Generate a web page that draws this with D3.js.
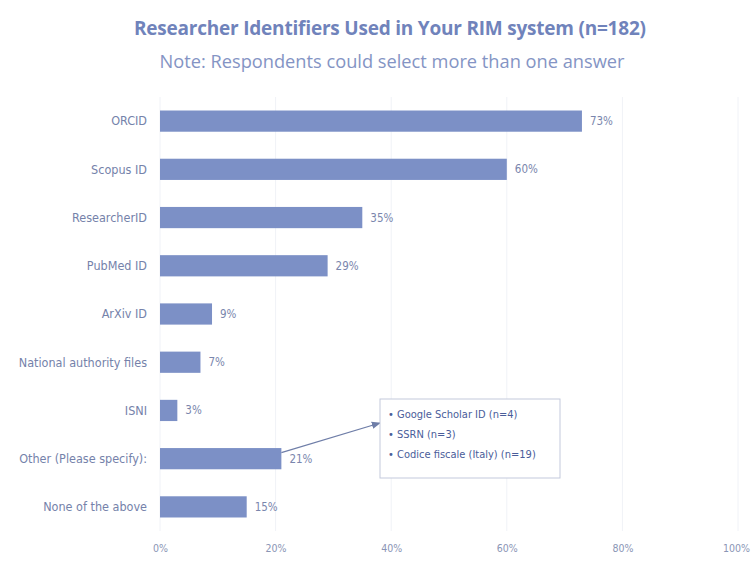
<!DOCTYPE html>
<html><head><meta charset="utf-8">
<script src="https://cdn.jsdelivr.net/npm/d3@7"></script>
<style>
body{margin:0;background:#fff;}
text{font-family:"Liberation Sans Narrow","DejaVu Sans Condensed","Roboto",sans-serif;}
</style></head>
<body><svg id="c" width="752" height="561"></svg>
<script>
const categories = ["ORCID","Scopus ID","ResearcherID","PubMed ID","ArXiv ID","National authority files","ISNI","Other (Please specify):","None of the above"];
const values = [73,60,35,29,9,7,3,21,15];
const ticks = [0,20,40,60,80,100];
const noteLines = ["Google Scholar ID (n=4)","SSRN (n=3)","Codice fiscale (Italy) (n=19)"];

const svg = d3.select("#c");
const x = d3.scaleLinear().domain([0,100]).range([160,738]);
const y = d3.scaleBand().domain(categories).range([97,531]).paddingInner(0.56).paddingOuter(0.28);

svg.append("text").attr("x",390).attr("y",35).attr("text-anchor","middle")
  .attr("font-size",19).attr("font-weight","bold").attr("fill","#7083bb")
  .style("font-family","'Open Sans',sans-serif").attr("textLength",512)
  .text("Researcher Identifiers Used in Your RIM system (n=182)");
svg.append("text").attr("x",392).attr("y",68).attr("text-anchor","middle")
  .attr("font-size",17.5).attr("fill","#8494c4")
  .style("font-family","'Open Sans',sans-serif").attr("textLength",465).attr("lengthAdjust","spacingAndGlyphs")
  .text("Note: Respondents could select more than one answer");

// grid
svg.append("g").selectAll("line").data(ticks).join("line")
  .attr("x1",d=>x(d)).attr("x2",d=>x(d)).attr("y1",97).attr("y2",531)
  .attr("stroke","#f0f2f7").attr("stroke-width",1);

// bars
svg.append("g").selectAll("rect").data(values).join("rect")
  .attr("x",x(0)).attr("y",(d,i)=>y(categories[i]))
  .attr("width",d=>x(d)-x(0)).attr("height",y.bandwidth())
  .attr("fill","#7c90c6");

// value labels
svg.append("g").selectAll("text").data(values).join("text")
  .attr("x",d=>x(d)+8).attr("y",(d,i)=>y(categories[i])+y.bandwidth()/2)
  .attr("dy","0.35em").attr("font-size",11.5).attr("fill","#7a86ad")
  .text(d=>d+"%");

// category labels
svg.append("g").selectAll("text").data(categories).join("text")
  .attr("x",147).attr("y",d=>y(d)+y.bandwidth()/2).attr("dy","0.35em")
  .attr("text-anchor","end").attr("font-size",12.5).attr("fill","#7582aa")
  .text(d=>d);

// x axis
const ax = svg.append("g").attr("transform","translate(0,548)")
  .call(d3.axisBottom(x).tickValues(ticks).tickFormat(d=>d+"%").tickSize(0));
ax.select(".domain").remove();
ax.selectAll("text").attr("font-size",10.5).attr("fill","#8a95b5").attr("dy","0.1em")
  .attr("dx",d=>d===100?-2:0)
  .style("font-family","'Liberation Sans Narrow','DejaVu Sans Condensed',sans-serif");

// annotation
const oi = categories.indexOf("Other (Please specify):");
const bx = 380, by = 399, bw = 180, bh = 79;
svg.append("defs").append("marker").attr("id","ah").attr("viewBox","0 0 10 10")
  .attr("refX",9).attr("refY",5).attr("markerWidth",7).attr("markerHeight",7).attr("orient","auto")
  .append("path").attr("d","M0,1 L10,5 L0,9 z").attr("fill","#6f7ea8");
svg.append("line").attr("x1",x(values[oi])).attr("y1",y(categories[oi])+y.bandwidth()/2-6)
  .attr("x2",bx).attr("y2",by+24).attr("stroke","#6f7ea8").attr("stroke-width",1.3)
  .attr("marker-end","url(#ah)");
svg.append("rect").attr("x",bx).attr("y",by).attr("width",bw).attr("height",bh)
  .attr("fill","#fff").attr("stroke","#c3c9dc").attr("stroke-width",1);
svg.append("g").selectAll("text").data(noteLines).join("text")
  .attr("x",bx+8).attr("y",(d,i)=>by+19+i*20).attr("font-size",11).attr("fill","#4a5d9a")
  .text(d=>"\u2022 "+d);
</script></body></html>
